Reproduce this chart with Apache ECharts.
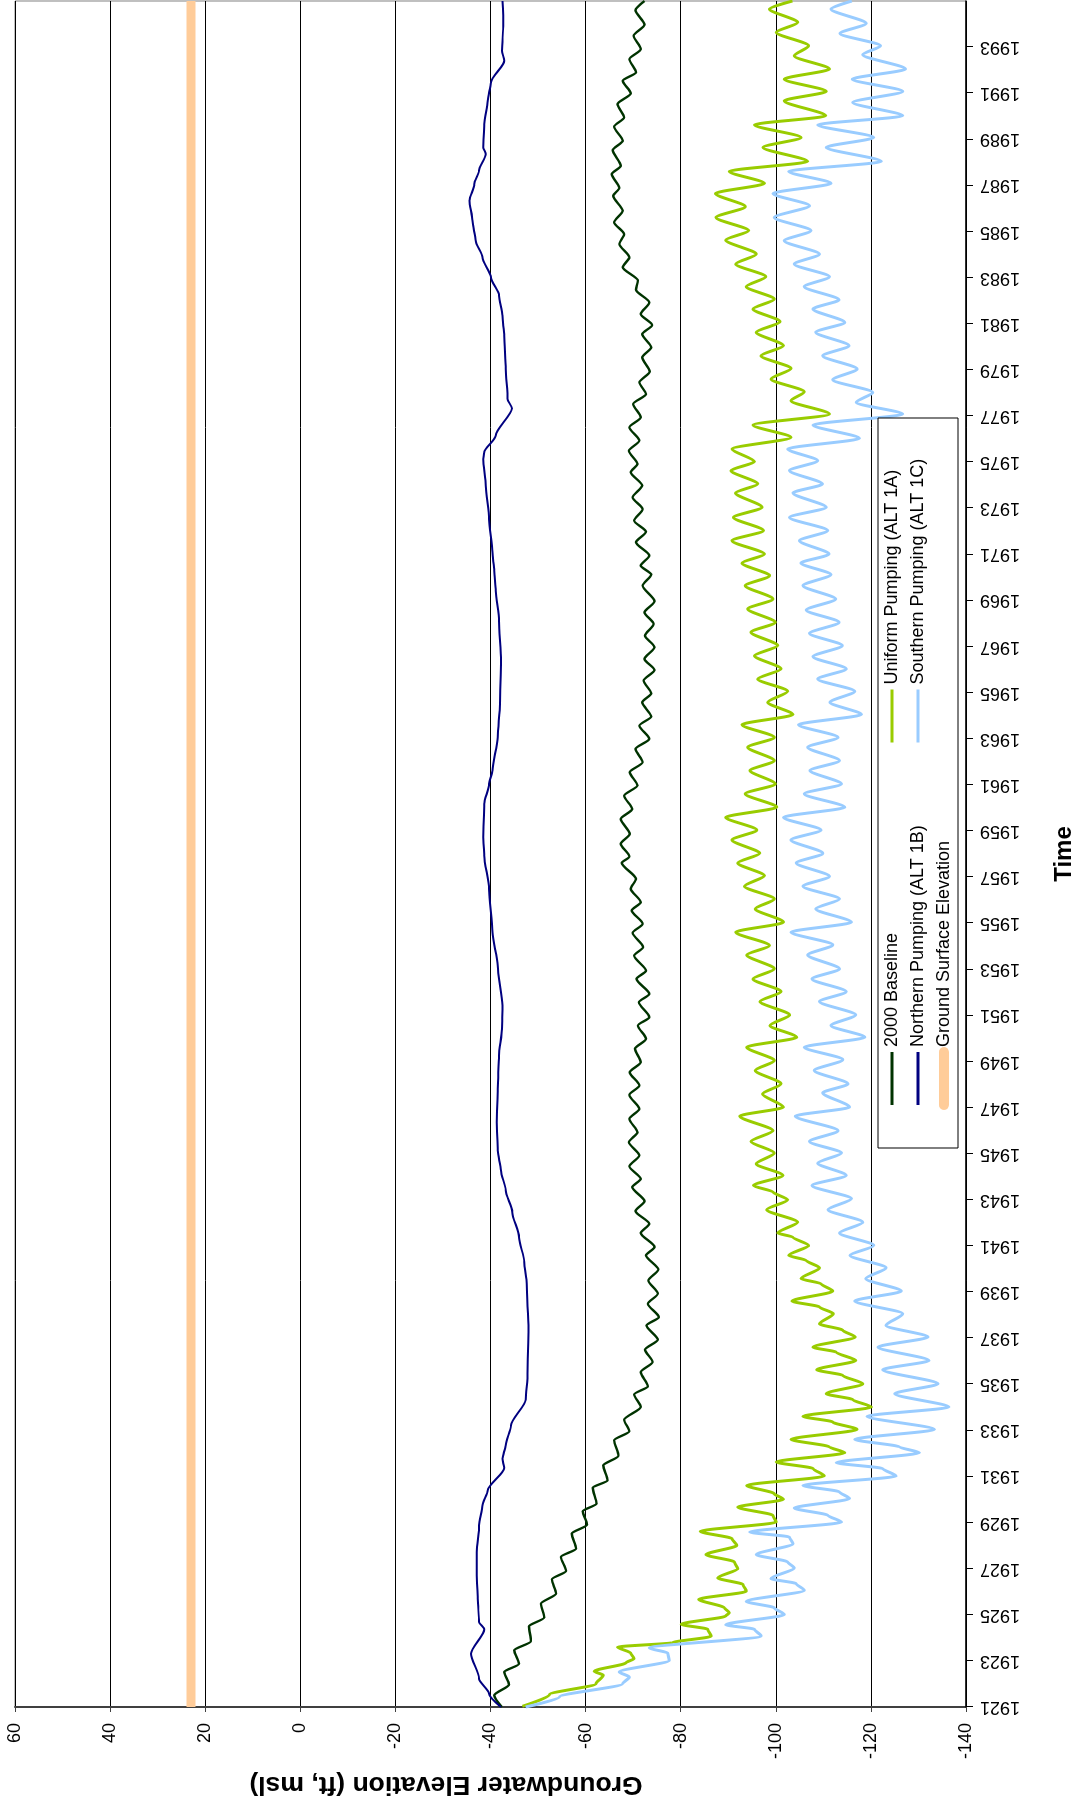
<!DOCTYPE html>
<html><head><meta charset="utf-8">
<script src="https://cdn.jsdelivr.net/npm/echarts@6/dist/echarts.min.js"></script>
<style>
html,body{margin:0;padding:0;width:1086px;height:1801px;overflow:hidden;background:#fff;}
#chart{position:absolute;left:0;top:0;width:1801px;height:1086px;transform-origin:0 0;transform:translateY(1801px) rotate(-90deg);}
</style></head><body><div id="chart"></div>
<script>
// ---- data (year, groundwater elevation ft msl) ----
const START_YEAR = 1921;
const END_YEAR = 1995;
const yearTickLabels = [1921,1923,1925,1927,1929,1931,1933,1935,1937,1939,1941,1943,1945,1947,1949,1951,1953,1955,1957,1959,1961,1963,1965,1967,1969,1971,1973,1975,1977,1979,1981,1983,1985,1987,1989,1991,1993];
const elevationTicks = [60,40,20,0,-20,-40,-60,-80,-100,-120,-140];
const groundSurfaceElevation = 23;

const baseline2000 = [
[1921.00,-42.4],[1921.51,-40.8],[1921.97,-43.9],[1922.52,-42.9],[1922.87,-46.0],[1923.46,-45.0],[1923.85,-48.5],
[1924.50,-48.1],[1924.88,-51.3],[1925.48,-50.6],[1925.92,-53.8],[1926.54,-52.9],[1926.90,-55.9],[1927.51,-54.8],
[1927.87,-58.0],[1928.52,-57.1],[1928.91,-60.3],[1929.49,-59.4],[1929.82,-62.3],[1930.51,-61.5],[1930.83,-64.6],
[1931.48,-63.7],[1931.89,-66.9],[1932.57,-66.0],[1932.96,-69.2],[1933.46,-68.1],[1934.01,-71.6],[1934.56,-70.2],
[1934.91,-73.1],[1935.53,-71.6],[1935.96,-74.1],[1936.50,-72.5],[1936.93,-75.2],[1937.55,-72.8],[1937.91,-75.4],
[1938.49,-73.1],[1938.93,-75.2],[1939.50,-73.2],[1939.97,-75.3],[1940.59,-72.7],[1940.95,-74.5],[1941.56,-71.6],
[1941.96,-73.4],[1942.51,-70.5],[1942.94,-72.4],[1943.55,-69.8],[1943.91,-71.6],[1944.45,-69.2],[1944.92,-71.3],
[1945.50,-69.1],[1945.93,-70.9],[1946.51,-69.2],[1946.94,-71.3],[1947.55,-69.2],[1947.96,-71.3],[1948.53,-69.3],
[1948.97,-71.6],[1949.55,-70.4],[1949.98,-72.7],[1950.56,-71.0],[1950.92,-73.4],[1951.57,-71.2],[1951.93,-73.4],
[1952.58,-70.7],[1952.94,-72.7],[1953.59,-70.2],[1953.96,-72.1],[1954.58,-69.9],[1954.97,-72.0],[1955.55,-69.7],
[1955.91,-71.6],[1956.49,-69.5],[1956.92,-70.6],[1957.61,-67.6],[1957.89,-69.2],[1958.44,-67.4],[1958.87,-69.3],
[1959.52,-67.4],[1959.95,-69.8],[1960.53,-68.1],[1960.97,-70.9],[1961.55,-69.3],[1961.98,-72.0],[1962.56,-70.5],
[1962.99,-73.4],[1963.57,-71.3],[1963.96,-73.8],[1964.58,-71.9],[1964.97,-73.8],[1965.52,-72.2],[1965.98,-74.5],
[1966.46,-72.4],[1966.97,-74.5],[1967.47,-72.5],[1967.98,-74.3],[1968.48,-72.4],[1968.96,-74.5],[1969.64,-72.0],
[1970.12,-73.8],[1970.51,-71.6],[1970.94,-73.4],[1971.52,-70.6],[1971.98,-72.7],[1972.46,-70.2],[1972.96,-72.0],
[1973.47,-69.9],[1973.98,-71.9],[1974.56,-69.5],[1974.92,-70.9],[1975.49,-69.1],[1975.93,-71.3],[1976.51,-69.2],
[1976.94,-71.6],[1977.52,-70.0],[1977.95,-72.7],[1978.46,-71.3],[1978.92,-73.5],[1979.54,-71.9],[1979.98,-73.8],
[1980.55,-71.9],[1980.94,-74.0],[1981.42,-71.6],[1981.93,-73.4],[1982.47,-70.6],[1982.87,-71.0],[1983.45,-67.8],
[1983.88,-69.2],[1984.46,-67.1],[1984.89,-68.1],[1985.40,-66.0],[1985.90,-67.8],[1986.55,-65.8],[1986.89,-67.1],
[1987.49,-65.5],[1987.85,-67.4],[1988.53,-65.7],[1988.94,-67.8],[1989.55,-66.0],[1989.95,-68.1],[1990.53,-66.7],
[1990.99,-69.5],[1991.54,-67.8],[1991.90,-70.6],[1992.48,-69.2],[1992.91,-71.6],[1993.49,-70.1],[1993.97,-72.4],
[1994.60,-70.5],[1995.00,-72.4]
];

const northernPumping = [
[1921.00,-42.2],[1921.58,-39.7],[1922.23,-37.6],[1923.31,-35.9],[1924.37,-38.7],[1924.69,-37.6],[1925.70,-37.3],
[1926.71,-37.1],[1927.72,-37.1],[1928.88,-37.6],[1929.75,-38.3],[1930.40,-39.4],[1931.37,-42.9],[1931.77,-42.5],
[1932.35,-43.2],[1933.22,-44.3],[1934.33,-47.4],[1935.46,-47.8],[1937.41,-48.0],[1939.36,-47.6],[1940.30,-47.1],
[1941.38,-46.0],[1942.47,-44.6],[1943.41,-43.2],[1944.27,-42.2],[1945.14,-41.5],[1946.37,-41.3],[1947.81,-41.5],
[1949.26,-41.8],[1950.41,-42.4],[1951.43,-42.5],[1953.16,-41.5],[1954.61,-40.4],[1956.49,-39.7],[1957.93,-38.7],
[1958.73,-38.5],[1960.17,-38.7],[1961.04,-39.7],[1961.62,-40.4],[1963.06,-41.5],[1964.51,-42.0],[1966.39,-42.2],
[1968.12,-41.8],[1969.42,-41.1],[1970.29,-40.8],[1971.09,-40.4],[1972.53,-39.7],[1973.98,-39.0],[1975.13,-38.5],
[1975.42,-38.7],[1976.15,-41.1],[1977.33,-44.5],[1977.74,-43.6],[1979.04,-43.2],[1980.48,-42.9],[1981.35,-42.5],
[1982.22,-41.8],[1983.01,-40.1],[1983.88,-38.3],[1984.60,-36.9],[1985.47,-36.2],[1986.34,-35.6],[1987.06,-36.6],
[1987.64,-37.6],[1988.36,-39.0],[1988.65,-38.5],[1989.66,-38.7],[1990.67,-39.4],[1991.47,-40.1],[1992.41,-42.9],
[1992.84,-42.4],[1994.00,-42.7],[1995.00,-42.5]
];

const uniformPumping = [
[1921.03,-46.7],[1921.54,-52.4],[1922.01,-62.2],[1922.38,-63.7],[1922.55,-61.8],[1922.92,-68.5],[1923.10,-70.2],
[1923.34,-69.5],[1923.60,-66.7],[1923.79,-78.3],[1924.07,-86.4],[1924.37,-85.7],[1924.59,-80.1],[1924.95,-89.5],
[1925.09,-90.2],[1925.30,-89.2],[1925.67,-83.8],[1926.02,-93.8],[1926.31,-93.1],[1926.60,-87.8],[1927.00,-92.0],
[1927.29,-91.3],[1927.61,-85.3],[1928.01,-91.8],[1928.30,-90.8],[1928.62,-84.1],[1929.02,-100.1],[1929.31,-99.4],
[1929.67,-92.0],[1930.01,-101.6],[1930.25,-99.7],[1930.61,-93.9],[1931.02,-110.2],[1931.34,-107.9],[1931.63,-100.1],
[1932.03,-114.5],[1932.28,-111.3],[1932.61,-103.2],[1933.04,-117.1],[1933.36,-112.0],[1933.61,-105.7],[1934.01,-120.1],
[1934.33,-116.2],[1934.59,-110.6],[1935.02,-118.3],[1935.38,-114.1],[1935.63,-108.6],[1936.03,-116.8],[1936.39,-112.7],
[1936.61,-107.8],[1937.05,-116.7],[1937.34,-114.1],[1937.62,-109.2],[1938.06,-112.1],[1938.35,-109.2],[1938.61,-103.4],
[1939.04,-112.0],[1939.36,-109.5],[1939.58,-105.3],[1940.05,-109.2],[1940.37,-106.4],[1940.59,-102.7],[1941.02,-106.9],
[1941.38,-103.6],[1941.56,-100.4],[1942.03,-104.6],[1942.57,-98.1],[1943.00,-102.5],[1943.34,-99.4],[1943.62,-95.3],
[1944.06,-101.5],[1944.56,-95.9],[1945.03,-99.7],[1945.53,-94.8],[1946.00,-99.4],[1946.63,-92.4],[1947.02,-101.6],
[1947.59,-97.2],[1948.03,-101.1],[1948.61,-95.7],[1949.04,-99.7],[1949.62,-93.9],[1950.05,-104.4],[1950.56,-98.8],
[1951.02,-102.9],[1951.60,-96.7],[1952.03,-101.1],[1952.58,-95.2],[1953.02,-99.7],[1953.62,-93.9],[1954.03,-98.7],
[1954.61,-91.6],[1955.04,-101.6],[1955.62,-95.7],[1956.05,-99.7],[1956.60,-93.4],[1957.06,-97.6],[1957.61,-92.0],
[1958.03,-96.6],[1958.61,-90.8],[1959.04,-96.0],[1959.59,-89.5],[1960.03,-100.2],[1960.61,-93.6],[1961.04,-99.9],
[1961.62,-94.6],[1962.05,-99.7],[1962.63,-94.1],[1963.06,-99.7],[1963.61,-92.9],[1964.05,-103.6],[1964.58,-98.3],
[1965.06,-102.5],[1965.59,-96.2],[1966.03,-101.1],[1966.60,-95.5],[1967.04,-100.4],[1967.62,-94.8],[1968.05,-99.9],
[1968.63,-94.1],[1969.06,-99.4],[1969.64,-93.6],[1970.07,-98.7],[1970.62,-92.9],[1971.01,-97.6],[1971.59,-90.8],
[1972.03,-97.4],[1972.60,-91.1],[1973.04,-97.1],[1973.66,-91.5],[1974.05,-96.2],[1974.63,-90.6],[1975.02,-95.5],
[1975.57,-90.8],[1976.07,-103.2],[1976.61,-95.2],[1977.08,-111.3],[1977.66,-103.2],[1978.05,-106.0],[1978.60,-99.0],
[1979.06,-103.2],[1979.61,-96.9],[1980.05,-101.6],[1980.63,-95.9],[1981.09,-100.9],[1981.64,-95.2],[1982.07,-99.7],
[1982.61,-93.8],[1983.04,-97.9],[1983.59,-91.6],[1984.02,-95.9],[1984.63,-89.5],[1985.04,-94.3],[1985.61,-87.4],
[1986.08,-93.6],[1986.65,-87.3],[1987.09,-97.6],[1987.61,-90.2],[1988.04,-106.7],[1988.65,-97.3],[1989.08,-105.3],
[1989.63,-95.5],[1990.02,-110.5],[1990.67,-101.8],[1991.08,-110.6],[1991.61,-101.8],[1992.05,-111.3],[1992.62,-103.9],
[1993.06,-106.9],[1993.64,-100.1],[1994.07,-104.6],[1994.65,-98.7],[1995.00,-103.5]
];

const southernPumping = [
[1921.00,-47.4],[1921.44,-54.5],[1922.01,-67.8],[1922.30,-69.2],[1922.52,-67.1],[1923.02,-77.6],[1923.34,-77.3],
[1923.56,-73.4],[1924.08,-96.9],[1924.37,-95.5],[1924.57,-89.5],[1925.01,-101.8],[1925.30,-99.7],[1925.58,-93.8],
[1926.06,-106.0],[1926.35,-104.3],[1926.57,-99.0],[1927.03,-103.9],[1927.29,-102.5],[1927.61,-95.9],[1928.08,-103.6],
[1928.37,-102.9],[1928.59,-94.5],[1929.02,-113.8],[1929.31,-111.0],[1929.63,-103.9],[1930.04,-115.5],[1930.33,-113.4],
[1930.61,-105.7],[1931.02,-125.3],[1931.34,-122.5],[1931.60,-112.7],[1932.03,-130.2],[1932.28,-126.0],[1932.61,-116.6],
[1933.04,-133.4],[1933.61,-119.2],[1934.01,-136.4],[1934.59,-125.0],[1935.02,-134.1],[1935.63,-122.5],[1936.03,-132.2],
[1936.61,-121.5],[1937.05,-132.0],[1937.55,-123.2],[1938.06,-126.7],[1938.61,-116.6],[1939.04,-126.4],[1939.58,-118.9],
[1940.05,-123.2],[1940.59,-115.6],[1941.02,-120.6],[1941.56,-113.4],[1942.03,-118.3],[1942.57,-111.0],[1943.05,-115.9],
[1943.62,-107.6],[1944.06,-114.8],[1944.59,-108.8],[1945.03,-113.8],[1945.53,-107.1],[1946.00,-113.1],[1946.63,-104.1],
[1947.02,-115.5],[1947.64,-109.9],[1948.03,-115.2],[1948.61,-108.1],[1949.08,-114.1],[1949.62,-106.0],[1950.05,-118.7],
[1950.56,-111.6],[1951.02,-116.8],[1951.60,-109.2],[1952.03,-114.8],[1952.58,-107.6],[1953.02,-113.4],[1953.62,-106.7],
[1954.06,-112.0],[1954.61,-103.2],[1955.04,-115.9],[1955.62,-108.4],[1956.05,-113.4],[1956.60,-105.7],[1957.03,-111.3],
[1957.61,-104.3],[1958.03,-109.9],[1958.61,-103.2],[1959.04,-109.5],[1959.59,-101.6],[1960.03,-114.5],[1960.61,-106.0],
[1961.04,-113.8],[1961.62,-107.2],[1962.05,-113.4],[1962.63,-106.7],[1963.06,-113.1],[1963.61,-104.8],[1964.05,-118.0],
[1964.58,-111.4],[1965.06,-116.6],[1965.59,-108.8],[1966.03,-114.8],[1966.56,-107.8],[1967.04,-114.0],[1967.57,-107.1],
[1968.05,-113.3],[1968.58,-106.4],[1969.06,-112.6],[1969.64,-105.7],[1970.12,-111.6],[1970.62,-105.3],[1971.01,-111.2],
[1971.59,-105.0],[1972.03,-110.9],[1972.60,-102.9],[1973.04,-110.6],[1973.66,-103.6],[1974.05,-109.8],[1974.63,-102.9],
[1975.06,-108.8],[1975.57,-102.5],[1976.03,-117.6],[1976.61,-107.8],[1977.08,-126.7],[1977.59,-116.9],[1978.02,-120.4],
[1978.57,-112.0],[1979.04,-117.1],[1979.61,-109.9],[1980.05,-115.4],[1980.63,-108.4],[1981.06,-114.5],[1981.64,-107.8],
[1982.04,-113.3],[1982.61,-106.0],[1983.04,-111.3],[1983.59,-103.9],[1984.02,-109.2],[1984.60,-101.8],[1985.04,-107.4],
[1985.61,-99.7],[1986.12,-107.1],[1986.65,-99.4],[1987.09,-111.6],[1987.61,-102.7],[1988.04,-122.2],[1988.65,-110.6],
[1989.08,-120.6],[1989.63,-108.8],[1990.02,-126.7],[1990.60,-116.2],[1991.08,-126.7],[1991.61,-116.1],[1992.05,-127.3],
[1992.67,-118.3],[1993.06,-122.0],[1993.59,-113.5],[1994.03,-119.0],[1994.65,-111.6],[1995.00,-116.0]
];

// ---- chart ----
const toXY = pts => pts.map(p => [p[0] - START_YEAR, p[1]]);
const FONT = '"Liberation Sans", Arial, sans-serif';
const chart = echarts.init(document.getElementById('chart'), null, {renderer: 'canvas'});

function lineSeries(name, pts, color, width) {
  return {
    name: name, type: 'line', data: toXY(pts), symbol: 'none', showSymbol: false,
    smooth: 0.25, smoothMonotone: 'x',
    lineStyle: {color: color, width: width, join: 'round'}, itemStyle: {color: color},
    emphasis: {disabled: true}, silent: true
  };
}

const legendCommon = {
  orient: 'vertical', top: 883, padding: 0, itemWidth: 53, itemHeight: 12, itemGap: 8, z: 10,
  selectedMode: false, textStyle: {fontSize: 18, color: '#000', fontFamily: FONT},
  itemStyle: {opacity: 0, color: 'transparent', borderWidth: 0}
};

const option = {
  animation: false,
  backgroundColor: '#ffffff',
  textStyle: {fontFamily: FONT},
  grid: {left: 94, right: 1, top: 15, bottom: 120, show: true, borderColor: '#808080', borderWidth: 1, backgroundColor: '#ffffff'},
  xAxis: {
    type: 'value', min: 0, max: END_YEAR - START_YEAR, interval: 2,
    name: 'Time', nameLocation: 'middle', nameGap: 86,
    nameTextStyle: {fontSize: 24, fontWeight: 'bold', color: '#000', fontFamily: FONT},
    axisLine: {show: true, onZero: false, lineStyle: {color: '#000', width: 1.5}},
    axisTick: {show: true, length: 7, lineStyle: {color: '#000'}},
    axisLabel: {rotate: 90, fontSize: 18, color: '#000', margin: 14, showMaxLabel: false, fontFamily: FONT,
      formatter: v => { const y = START_YEAR + v; return yearTickLabels.indexOf(y) >= 0 ? String(y) : ''; }},
    splitLine: {show: false}
  },
  yAxis: {
    type: 'value', min: elevationTicks[elevationTicks.length - 1], max: elevationTicks[0], interval: 20,
    axisLine: {show: true, onZero: false, lineStyle: {color: '#404040', width: 2}},
    axisTick: {show: true, length: 5, lineStyle: {color: '#404040'}},
    axisLabel: {fontSize: 18, color: '#000', margin: 16, fontFamily: FONT},
    splitLine: {show: true, lineStyle: {color: '#000', width: 1}}
  },
  legend: [
    Object.assign({}, legendCommon, {left: 691, data: [
      {name: '2000 Baseline', lineStyle: {width: 3}},
      {name: 'Northern Pumping (ALT 1B)', lineStyle: {width: 3}},
      {name: 'Ground Surface Elevation', lineStyle: {width: 10, cap: 'round'}}
    ]}),
    Object.assign({}, legendCommon, {left: 1057, data: [
      {name: 'Uniform Pumping (ALT 1A)', lineStyle: {width: 3}},
      {name: 'Southern Pumping (ALT 1C)', lineStyle: {width: 3}}
    ]})
  ],
  graphic: [
    {type: 'rect', z: 5, shape: {x: 653, y: 878, width: 730, height: 80}, style: {fill: '#fff', stroke: '#000', lineWidth: 1}},
    {type: 'text', z: 5, x: 17, y: 446, rotation: Math.PI / 2,
     style: {text: 'Groundwater Elevation (ft, msl)', fontSize: 26.5, fontWeight: 'bold', fill: '#000', fontFamily: FONT, align: 'center', verticalAlign: 'middle'}}
  ],
  series: [
    lineSeries('Ground Surface Elevation', [[START_YEAR, groundSurfaceElevation], [END_YEAR, groundSurfaceElevation]], '#FFCC99', 9),
    lineSeries('2000 Baseline', baseline2000, '#003300', 2.4),
    lineSeries('Northern Pumping (ALT 1B)', northernPumping, '#000080', 2),
    lineSeries('Uniform Pumping (ALT 1A)', uniformPumping, '#99CC00', 3),
    lineSeries('Southern Pumping (ALT 1C)', southernPumping, '#99CCFF', 3)
  ]
};
chart.setOption(option);
</script></body></html>
